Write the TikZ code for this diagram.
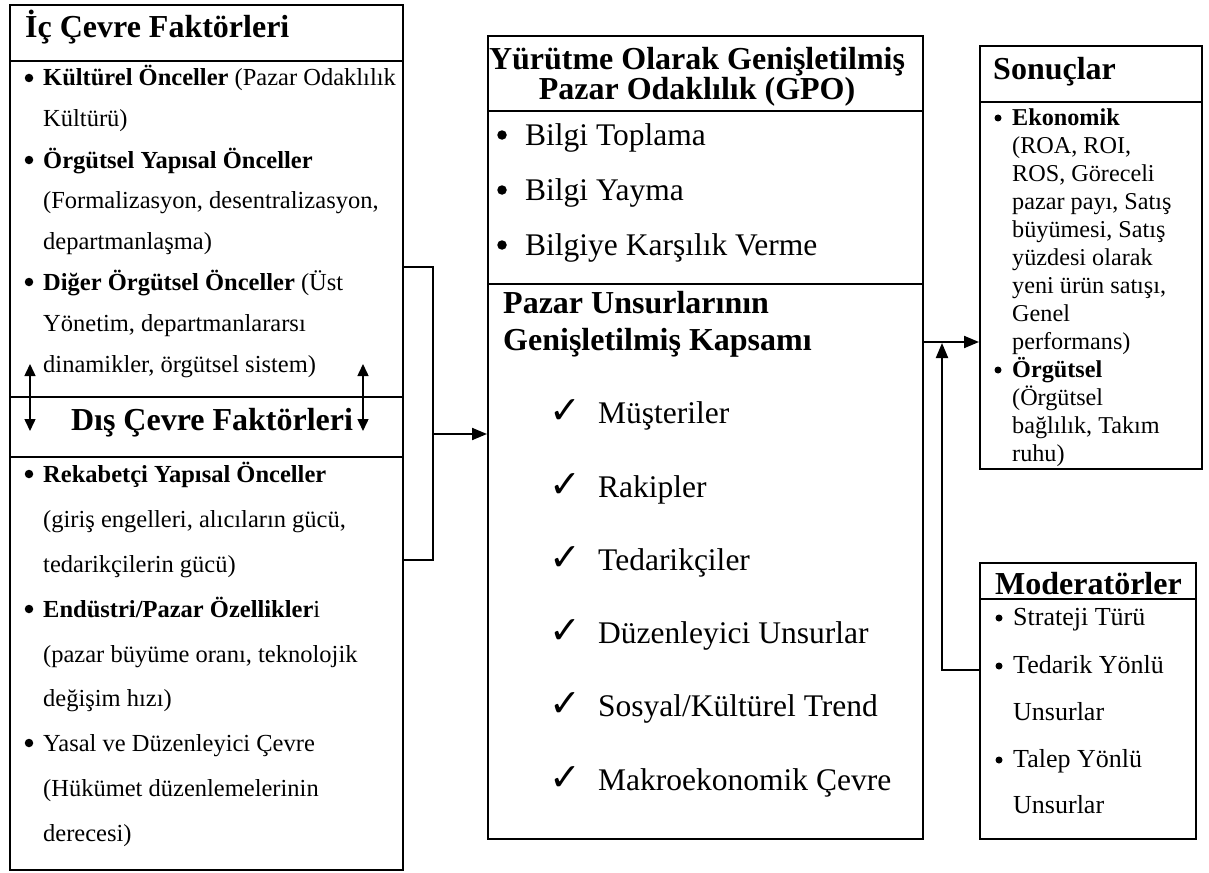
\documentclass[tikz,border=0pt]{standalone}
\usepackage{fontspec}
\setmainfont{Liberation Serif}
\newfontfamily\checkfont{DejaVu Sans}
\usetikzlibrary{arrows.meta}

\begin{document}
\begin{tikzpicture}[x=1pt,y=-1pt,
  frame/.style={draw, line width=2pt, inner sep=0pt, anchor=north west},
  rule/.style={line width=2pt},
  link/.style={line width=2pt},
  arr/.style={link, -{Triangle[length=15pt,width=12pt]}},
  dbl/.style={line width=1.5pt, {Triangle[length=12pt,width=11pt]}-{Triangle[length=12pt,width=11pt]}},
  txt/.style={anchor=base west, inner sep=0pt},
  head/.style={txt, font=\fontsize{32}{36}\selectfont\bfseries},
  lft/.style={txt, font=\fontsize{24.5}{29}\selectfont},
  mid/.style={txt, font=\fontsize{31.5}{36}\selectfont},
  res/.style={txt, font=\fontsize{24.2}{28}\selectfont},
  modr/.style={txt, font=\fontsize{26}{30}\selectfont},
  chk/.style={txt, font=\checkfont\fontsize{38}{40}\selectfont},
  dot/.style={circle, fill, inner sep=0pt, minimum size=#1},
  dot/.default=8.5pt,
]
\useasboundingbox (0,0) rectangle (1209,872);

% ---------- boxes ----------
\node[frame, minimum width=393pt, minimum height=865pt] (env) at (9,4) {};
\node[frame, minimum width=435pt, minimum height=803pt] (gpo) at (487,35) {};
\node[frame, minimum width=222pt, minimum height=423pt] (son) at (979,45) {};
\node[frame, minimum width=216pt, minimum height=276pt] (mod) at (979,562) {};

% section rules
\draw[rule] (9,61) -- (402,61);
\draw[rule] (9,397) -- (402,397);
\draw[rule] (9,457) -- (402,457);
\draw[rule] (487,111) -- (922,111);
\draw[rule] (487,284) -- (922,284);
\draw[rule] (979,102) -- (1201,102);
\draw[rule] (979,599) -- (1195,599);

% ---------- internal / external factors ----------
\node[head] (h1) at (25,38) {İç Çevre Faktörleri};
\foreach \y/\t [count=\i] in {
  86/{\textbf{Kültürel Önceller} (Pazar Odaklılık},
  127/{Kültürü)},
  168/{\textbf{Örgütsel Yapısal Önceller}},
  208/{(Formalizasyon, desentralizasyon,},
  249/{departmanlaşma)},
  290/{\textbf{Diğer Örgütsel Önceller} (Üst},
  331/{Yönetim, departmanlararsı},
  372/{dinamikler, örgütsel sistem)}}
  \node[lft] (a\i) at (43,\y) {\t};
\foreach \y [count=\i] in {86,168,290}
  \node[dot] (ab\i) at (29,\y-8) {};

\node[head, anchor=base] (h2) at (212,430) {Dış Çevre Faktörleri};
\foreach \y/\t [count=\i] in {
  482/{\textbf{Rekabetçi Yapısal Önceller}},
  527/{(giriş engelleri, alıcıların gücü,},
  572/{tedarikçilerin gücü)},
  617/{\textbf{Endüstri/Pazar Özellikler}i},
  662/{(pazar büyüme oranı, teknolojik},
  706/{değişim hızı)},
  751/{Yasal ve Düzenleyici Çevre},
  796/{(Hükümet düzenlemelerinin},
  841/{derecesi)}}
  \node[lft] (b\i) at (43,\y) {\t};
\foreach \y [count=\i] in {482,617,751}
  \node[dot] (bb\i) at (29,\y-8) {};

% arrows between the two halves
\coordinate (u1) at (30,364); \coordinate (d1) at (30,431);
\coordinate (u2) at (363,364); \coordinate (d2) at (363,431);
\draw[dbl] (u1) -- (d1);
\draw[dbl] (u2) -- (d2);

% ---------- extended market orientation ----------
\node[head, anchor=base] (h3) at (697,70) {Yürütme Olarak Genişletilmiş};
\node[head, anchor=base] (h4) at (697,100) {Pazar Odaklılık (GPO)};
\foreach \y/\t [count=\i] in {145/{Bilgi Toplama}, 200/{Bilgi Yayma}, 255/{Bilgiye Karşılık Verme}}{
  \node[mid] (g\i) at (525,\y) {\t};
  \node[dot=9.5pt] (gb\i) at (502,\y-10) {};
}
\node[head] (h5) at (503,313) {Pazar Unsurlarının};
\node[head] (h6) at (503,350) {Genişletilmiş Kapsamı};
\foreach \y/\t [count=\i] in {423/Müşteriler, 497/Rakipler, 570/Tedarikçiler,
    643/{Düzenleyici Unsurlar}, 716/{Sosyal/Kültürel Trend}, 790/{Makroekonomik Çevre}}{
  \node[mid] (m\i) at (598,\y) {\t};
  \node[chk] (mc\i) at (549,\y) {✓};
}

% ---------- outcomes ----------
\node[head] (h7) at (993,80) {Sonuçlar};
\foreach \t [count=\i] in {
  {\textbf{Ekonomik}}, {(ROA, ROI,}, {ROS, Göreceli}, {pazar payı, Satış},
  {büyümesi, Satış}, {yüzdesi olarak}, {yeni ürün satışı,}, {Genel},
  {performans)}, {\textbf{Örgütsel}}, {(Örgütsel}, {bağlılık, Takım}, {ruhu)}}
  \node[res] (s\i) at (1012,{97+28*\i}) {\t};
\node[dot=7pt] (sb1) at (998,118) {};
\node[dot=7pt] (sb2) at (998,370) {};

% ---------- moderators ----------
\node[head] (h8) at (995,594) {Moderatörler};
\foreach \y/\t [count=\i] in {625/{Strateji Türü}, 673/{Tedarik Yönlü}, 720/Unsurlar,
    767/{Talep Yönlü}, 813/Unsurlar}
  \node[modr] (o\i) at (1013,\y) {\t};
\foreach \y [count=\i] in {625,673,767}
  \node[dot=7pt] (ob\i) at (999,\y-7) {};

% ---------- connectors ----------
\coordinate (j1) at (433,267);
\coordinate (j2) at (433,560);
\coordinate (j3) at (433,434);
\draw[link] (env.east |- j1) -- (j1) -- (j2) -- (env.east |- j2);
\draw[arr] (j3) -- (gpo.west |- j3);

\coordinate (r1) at (922,342);
\draw[arr] (gpo.east |- r1) -- (son.west |- r1);

\coordinate (k1) at (942,670);
\coordinate (k2) at (942,343);
\draw[arr] (mod.west |- k1) -- (k1) -- (k2);
\end{tikzpicture}
\end{document}
